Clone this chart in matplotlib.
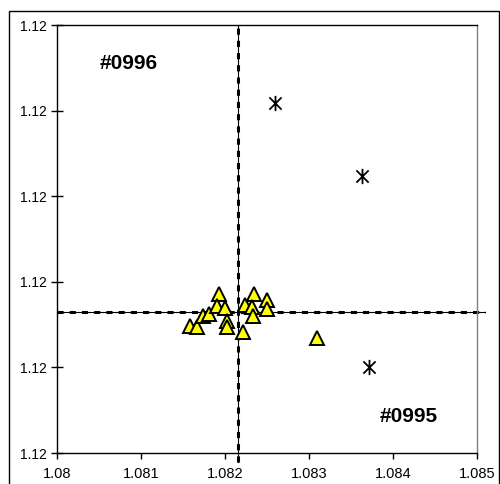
import numpy as np
import matplotlib.pyplot as plt
from matplotlib.path import Path
from matplotlib.patches import Rectangle

plt.rcParams['font.family'] = ['Liberation Sans', 'DejaVu Sans']

# triangle series (yellow)
tri_x = [1.081583, 1.081663, 1.081742, 1.081810, 1.081929, 1.081901, 1.082000,
         1.082020, 1.082020, 1.082238, 1.082211, 1.082349, 1.082318, 1.082337,
         1.082496, 1.082496, 1.083092]
tri_y = [1.119797, 1.119795, 1.119820, 1.119825, 1.119871, 1.119843, 1.119838,
         1.119808, 1.119794, 1.119845, 1.119783, 1.119871, 1.119842, 1.119821,
         1.119858, 1.119837, 1.119768]

# star series
star_x = [1.082595, 1.083627, 1.083718]
star_y = [1.120317, 1.120148, 1.119700]

# reference cross lines
vline_x = 1.08215
vline_y = [1.11948, 1.1205]
hline_y = 1.11983
hline_x = [1.08, 1.0851]

x_ticks = [1.08, 1.081, 1.082, 1.083, 1.084, 1.085]
x_labels = ['1.08', '1.081', '1.082', '1.083', '1.084', '1.085']
y_ticks = [1.1195, 1.1197, 1.1199, 1.1201, 1.1203, 1.1205]

fig = plt.figure(figsize=(5, 4.84), dpi=100)
ax = fig.add_axes([0.114, 0.064, 0.84, 0.8843])

# outer chart frame
fig.add_artist(Rectangle((9 / 500, -0.01), 489.5 / 500, 1 - 11 / 484 + 0.01,
                         transform=fig.transFigure, fill=False,
                         edgecolor='black', linewidth=1.0))

# star marker: vertical stroke plus an X
star = Path([(0, -1), (0, 1), (-0.8, -0.8), (0.8, 0.8), (-0.8, 0.8), (0.8, -0.8)],
            [Path.MOVETO, Path.LINETO, Path.MOVETO, Path.LINETO, Path.MOVETO, Path.LINETO])

for xs, ys in [([vline_x, vline_x], vline_y), (hline_x, [hline_y, hline_y])]:
    ax.plot(xs, ys, color='black', lw=0.8, clip_on=False, zorder=2)
    ax.plot(xs, ys, color='black', lw=2.2, dashes=(2, 2), clip_on=False, zorder=2)

ax.plot(tri_x, tri_y, linestyle='none', marker='^', markersize=10,
        markerfacecolor='#ffff00', markeredgecolor='black', markeredgewidth=1.4, zorder=3)
ax.plot(star_x, star_y, linestyle='none', marker=star, markersize=11,
        markeredgecolor='black', markeredgewidth=1.3, zorder=3)

ax.text(1.08085, 1.12041, '#0996', fontsize=15, fontweight='bold', ha='center', va='center')
ax.text(1.08419, 1.119585, '#0995', fontsize=15, fontweight='bold', ha='center', va='center')

ax.set_xlim(1.08, 1.085)
ax.set_ylim(1.1195, 1.1205)
ax.set_xticks(x_ticks)
ax.set_xticklabels(x_labels)
ax.set_yticks(y_ticks)
ax.set_yticklabels(['%.2f' % v for v in y_ticks])
ax.tick_params(axis='x', direction='out', length=4, width=1, labelsize=10.5, pad=6)
ax.tick_params(axis='y', direction='inout', length=8, width=1, labelsize=10, pad=3)

for s in ['left', 'bottom', 'top']:
    ax.spines[s].set_color('black')
    ax.spines[s].set_linewidth(1.0)
ax.spines['right'].set_color('#808080')
ax.spines['right'].set_linewidth(1.0)

fig.savefig('out.png', dpi=100)
